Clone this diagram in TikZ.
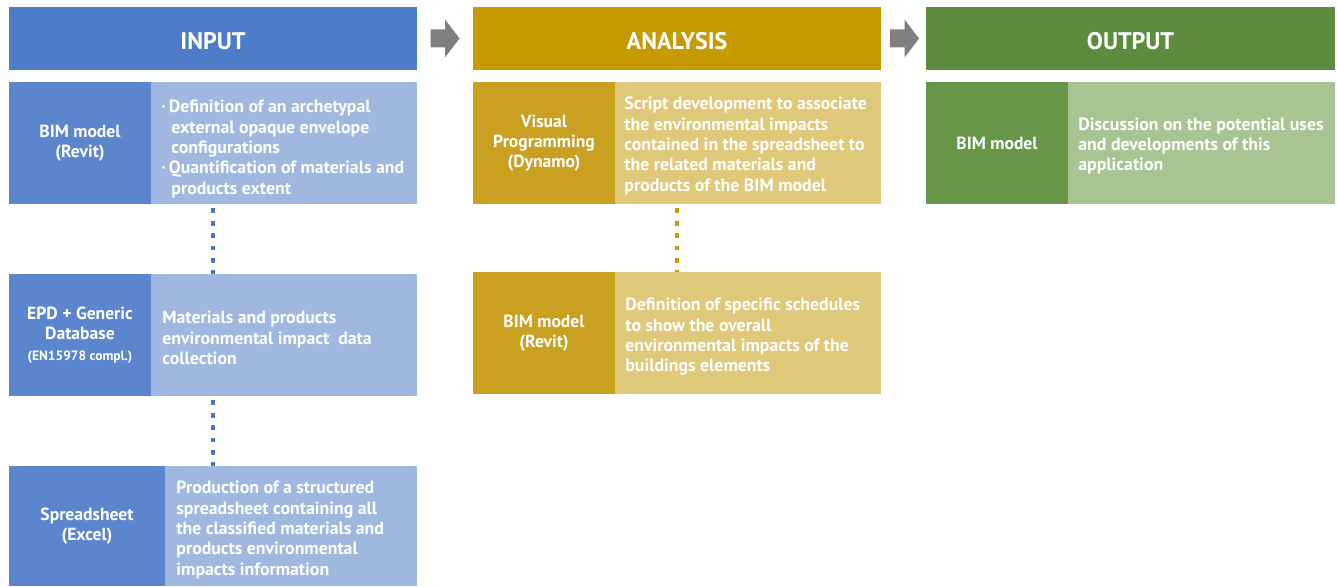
\documentclass[tikz,border=0pt]{standalone}
\usepackage{fontspec}
\setmainfont{PT Sans}
\usetikzlibrary{calc}

\definecolor{inhead}{HTML}{4F7CC9}
\definecolor{indark}{HTML}{5B86CE}
\definecolor{inlight}{HTML}{A0B7E0}
\definecolor{indot}{HTML}{4A78C8}
\definecolor{anhead}{HTML}{C69A00}
\definecolor{andark}{HTML}{C9A020}
\definecolor{anlight}{HTML}{E0C87A}
\definecolor{andot}{HTML}{C49A00}
\definecolor{outhead}{HTML}{5E8C3E}
\definecolor{outdark}{HTML}{689648}
\definecolor{outlight}{HTML}{A8C492}
\definecolor{arrowgray}{HTML}{7F7F7F}

\tikzset{
  header/.style={draw=none, inner sep=0pt, minimum height=63pt, minimum width=408pt,
    text=white, font=\fontsize{24}{28}\selectfont\bfseries},
  headtext/.style={text=white, inner sep=0pt, font=\fontsize{24}{28}\selectfont\bfseries},
  rowbox/.style={draw=none, inner sep=0pt, minimum height=122pt, minimum width=408pt},
  labelbox/.style={draw=none, inner sep=0pt, minimum height=122pt, minimum width=142pt,
    anchor=north west, align=center, text=white,
    font=\fontsize{17.6}{20.3}\selectfont\bfseries},
  desc/.style={anchor=west, align=left, inner sep=0pt, text=white,
    font=\fontsize{17.8}{20.3}\selectfont\bfseries},
  dotline/.style={line width=4.8pt, dash pattern=on 4.8pt off 7.6pt, dash phase=8.2pt},
  stagearrow/.style={fill=arrowgray, draw=none}
}

\begin{document}
\begin{tikzpicture}[x=1pt, y=-1pt]
\useasboundingbox[fill=white] (0,0) rectangle (1337,586);

% stage headers
\node[header, fill=inhead] (inh) at (213,38.5) {};
\node[header, fill=anhead] (anh) at (677,38.5) {};
\node[header, fill=outhead, minimum width=409pt] (outh) at (1130.5,38.5) {};
\node[headtext] (inht) at ([yshift=-2.5pt]inh.center) {INPUT};
\node[headtext] (anht) at ([yshift=-2.5pt]anh.center) {ANALYSIS};
\node[headtext] (outht) at ([yshift=-2.5pt]outh.center) {OUTPUT};

% block arrows between stages
\coordinate (a1) at ($(inh.east)!0.5!(anh.west)$);
\coordinate (a2) at ($(anh.east)!0.5!(outh.west)+(1,0)$);
\foreach \c in {a1,a2}{
  \fill[stagearrow] ([shift={(-14.5,-9)}]\c) -- ([shift={(0,-9)}]\c) -- ([shift={(0,-19)}]\c)
    -- ([shift={(14.5,0)}]\c) -- ([shift={(0,19)}]\c) -- ([shift={(0,9)}]\c)
    -- ([shift={(-14.5,9)}]\c) -- cycle;
}

% INPUT column
\node[rowbox, fill=inlight] (in1) at (213,143) {};
\node[labelbox, fill=indark] (in1d) at (in1.north west) {BIM model\\(Revit)};
\node[desc, yshift=-6pt] (in1t) at ([xshift=10pt]in1d.east)
  {·\,Definition of an archetypal\\
   \hspace*{10pt}external opaque envelope\\
   \hspace*{10pt}configurations\\
   ·\,Quantification of materials and\\
   \hspace*{10pt}products extent};

\node[rowbox, fill=inlight] (in2) at (213,335) {};
\node[labelbox, fill=indark] (in2d) at (in2.north west)
  {EPD + Generic\\Database\\{\fontsize{13.5}{16}\selectfont (EN15978 compl.)}};
\node[desc, yshift=-3pt] (in2t) at ([xshift=11pt]in2d.east)
  {Materials and products\\environmental impact\ \ data\\collection};

\node[rowbox, fill=inlight, minimum height=120pt] (in3) at (213,526) {};
\node[labelbox, fill=indark, minimum height=120pt, minimum width=156pt] (in3d) at (in3.north west)
  {Spreadsheet\\(Excel)};
\node[desc, yshift=-4pt] (in3t) at ([xshift=11pt]in3d.east)
  {Production of a structured\\spreadsheet containing all\\the classified materials and\\products environmental\\impacts information};

% ANALYSIS column
\node[rowbox, fill=anlight] (an1) at (677,143) {};
\node[labelbox, fill=andark] (an1d) at (an1.north west) {Visual\\Programming\\(Dynamo)};
\node[desc, yshift=-3pt] (an1t) at ([xshift=9pt]an1d.east)
  {Script development to associate\\the environmental impacts\\contained in the spreadsheet to\\the related materials and\\products of the BIM model};

\node[rowbox, fill=anlight] (an2) at (677,333) {};
\node[labelbox, fill=andark] (an2d) at (an2.north west) {BIM model\\(Revit)};
\node[desc, yshift=-4pt] (an2t) at ([xshift=10pt]an2d.east)
  {Definition of specific schedules\\to show the overall\\environmental impacts of the\\buildings elements};

% OUTPUT column
\node[rowbox, fill=outlight, minimum width=409pt] (out1) at (1130.5,143) {};
\node[labelbox, fill=outdark] (out1d) at (out1.north west) {BIM model};
\node[desc, yshift=-3pt] (out1t) at ([xshift=10pt]out1d.east)
  {Discussion on the potential uses\\and developments of this\\application};

% dotted links within each column
\draw[dotline, indot] (in1.south) -- (in2.north);
\draw[dotline, indot] (in2.south) -- (in3.north);
\draw[dotline, andot] (an1.south) -- (an2.north);
\end{tikzpicture}
\end{document}
